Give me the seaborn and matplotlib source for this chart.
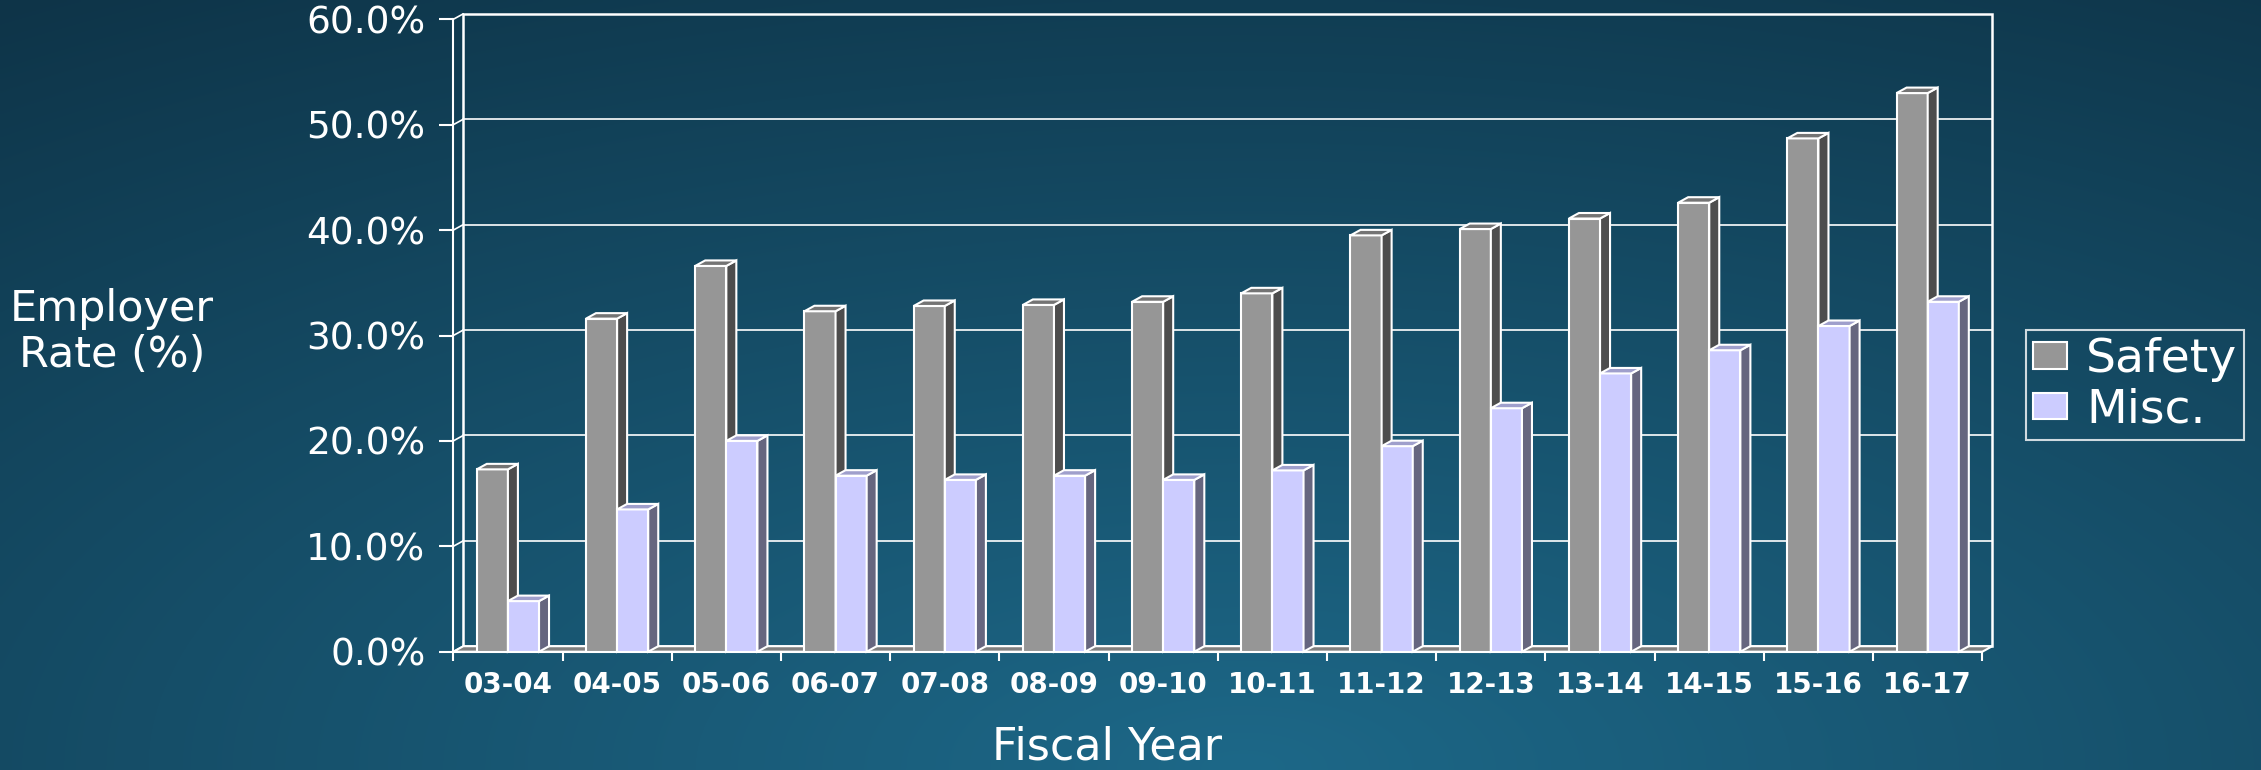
import numpy as np
import pandas as pd
import matplotlib
matplotlib.use("Agg")
import matplotlib.pyplot as plt
import matplotlib.patches as mpatches
from matplotlib.lines import Line2D
from matplotlib.ticker import FuncFormatter
import seaborn as sns

# ---- data -------------------------------------------------------------
years = ["03-04", "04-05", "05-06", "06-07", "07-08", "08-09", "09-10",
         "10-11", "11-12", "12-13", "13-14", "14-15", "15-16", "16-17"]
safety = [17.3, 31.6, 36.6, 32.3, 32.8, 32.9, 33.2,
          34.0, 39.5, 40.1, 41.1, 42.6, 48.7, 53.0]
misc = [4.8, 13.5, 20.0, 16.7, 16.3, 16.7, 16.3,
        17.2, 19.5, 23.1, 26.4, 28.6, 30.9, 33.2]
plans = ["Safety", "Misc."]
y_ticks = [0, 10, 20, 30, 40, 50, 60]

# ---- styling ----------------------------------------------------------
front_colors = ["#969696", "#ccccff"]
side_colors = ["#4d4d4d", "#66667f"]
top_colors = ["#747474", "#9f9fcc"]
WHITE = "white"

sns.set_style("ticks")
plt.rcParams["font.family"] = ["DejaVu Sans"]

W, H = 2261, 770
fig = plt.figure(figsize=(W / 100, H / 100), dpi=100)

# background: dark teal, lighter toward the bottom centre
bg = fig.add_axes([0, 0, 1, 1], zorder=0)
gx, gy = np.meshgrid(np.linspace(0, 1, 600), np.linspace(0, 1, 220))
dist = np.sqrt((gx - 0.55) ** 2 + (0.8 * gy) ** 2)
t = np.clip(dist / 0.97, 0, 1)[..., None]
light = np.array([29, 104, 136]) / 255
dark = np.array([14, 52, 72]) / 255
bg.imshow(light * (1 - t) + dark * t, origin="lower", extent=[0, 1, 0, 1],
          aspect="auto", interpolation="bilinear")
bg.axis("off")

# plotting area (front plane)
ax = fig.add_axes([453.3 / W, (H - 651.7) / H, 1529 / W, 632.4 / H], zorder=1)
ax.patch.set_visible(False)

df = pd.DataFrame({
    "Fiscal Year": years * 2,
    "rate": safety + misc,
    "plan": [plans[0]] * len(years) + [plans[1]] * len(years),
})
sns.barplot(data=df, x="Fiscal Year", y="rate", hue="plan", hue_order=plans,
            palette=front_colors, saturation=1, width=0.57,
            edgecolor=WHITE, linewidth=1.5, legend=False, ax=ax)

n = len(years)
ax.set_xlim(-0.5, n - 0.5)
ax.set_ylim(0, 60)

# depth of the pseudo-3D effect, converted from pixels to data units
px_per_x = ax.bbox.width / n
px_per_y = ax.bbox.height / 60
dx = 10 / px_per_x
dy = 5.5 / px_per_y

x_lo, x_hi = -0.5, n - 0.5
# floor
ax.add_patch(mpatches.Polygon([(x_lo, 0), (x_hi, 0), (x_hi + dx, dy), (x_lo + dx, dy)],
                              closed=True, facecolor="#7f7f7f", edgecolor=WHITE,
                              linewidth=1.5, zorder=1.5, clip_on=False))
# back wall outline and gridlines
ax.add_patch(mpatches.Rectangle((x_lo + dx, dy), x_hi - x_lo, 60, fill=False,
                                edgecolor=WHITE, linewidth=1.8, zorder=1.2, clip_on=False))
for v in y_ticks:
    if 0 < v < 60:
        ax.add_line(Line2D([x_lo + dx, x_hi + dx], [v + dy, v + dy], color=WHITE,
                           linewidth=1.2, zorder=1.1, clip_on=False))
    # side-wall joins from the front axis to the back wall
    ax.add_line(Line2D([x_lo, x_lo + dx], [v, v + dy], color=WHITE,
                       linewidth=1.2, zorder=1.1, clip_on=False))

# side and top faces of every bar
for i, cont in enumerate(ax.containers):
    base_z = 3 + 2 * i
    for p in cont.patches:
        p.set_zorder(base_z)
        x0 = p.get_x()
        x1 = x0 + p.get_width()
        h = p.get_height()
        side = mpatches.Polygon([(x1, 0), (x1 + dx, dy), (x1 + dx, h + dy), (x1, h)],
                                closed=True, facecolor=side_colors[i], edgecolor=WHITE,
                                linewidth=1.5, zorder=base_z + 0.5, clip_on=False)
        top = mpatches.Polygon([(x0, h), (x0 + dx, h + dy), (x1 + dx, h + dy), (x1, h)],
                               closed=True, facecolor=top_colors[i], edgecolor=WHITE,
                               linewidth=1.5, zorder=base_z + 0.5, clip_on=False)
        ax.add_patch(side)
        ax.add_patch(top)

# axes, ticks and labels
for s in ("top", "right"):
    ax.spines[s].set_visible(False)
for s in ("left", "bottom"):
    ax.spines[s].set_color(WHITE)
    ax.spines[s].set_linewidth(1.5)
    ax.spines[s].set_zorder(2)

ax.set_yticks(y_ticks)
ax.yaxis.set_major_formatter(FuncFormatter(lambda v, _: f"{v:.1f}%"))
ax.tick_params(axis="y", length=10, width=1.5, color=WHITE, pad=10,
               labelsize=27, labelcolor=WHITE)

ax.set_xticks(np.arange(-0.5, n, 1), minor=True)
ax.tick_params(axis="x", which="major", length=0, pad=14, labelsize=20, labelcolor=WHITE)
ax.tick_params(axis="x", which="minor", length=6.5, width=1.5, color=WHITE)
for lbl in ax.get_xticklabels():
    lbl.set_fontweight("bold")

ax.set_ylabel("Employer\nRate (%)", rotation=0, fontsize=31, color=WHITE,
              ha="center", va="center", multialignment="center", linespacing=1.1)
ax.yaxis.set_label_coords((112 - 453.3) / 1529, 0.5055)
ax.set_xlabel("Fiscal Year", fontsize=32, color=WHITE)
ax.xaxis.label.set_va("baseline")
ax.xaxis.set_label_coords((1107 - 453.3) / 1529, (10 - 118.3) / 632.4)

handles = [mpatches.Patch(facecolor=c, edgecolor=WHITE, linewidth=1.5) for c in front_colors]
leg = fig.legend(handles, plans, loc="upper left",
                 bbox_to_anchor=(2026 / W, (H - 330) / H), bbox_transform=fig.transFigure,
                 borderaxespad=0, frameon=True, fancybox=False, edgecolor=WHITE,
                 facecolor="none", fontsize=34, labelcolor=WHITE,
                 handlelength=0.72, handleheight=0.5, handletextpad=0.4,
                 labelspacing=0.12, borderpad=0.15)
leg.get_frame().set_linewidth(1.5)

fig.savefig("out.png", dpi=100)
